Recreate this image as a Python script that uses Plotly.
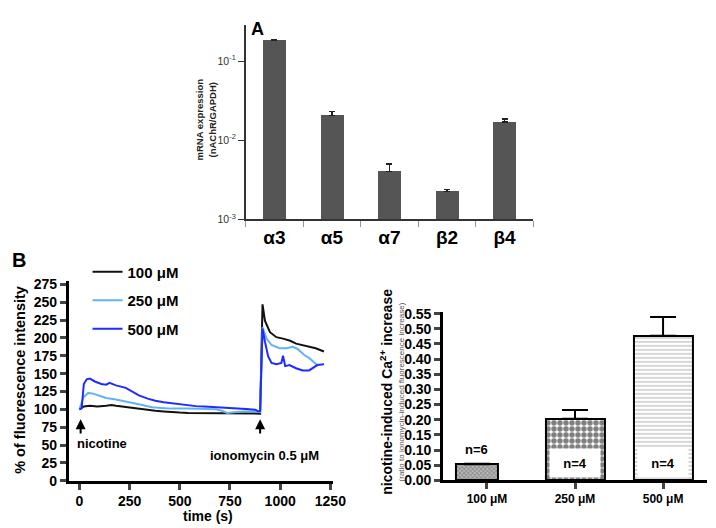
import plotly.graph_objects as go

# panel A: mRNA expression (log scale)
subunits = ["α3", "α5", "α7", "β2", "β4"]
mrna = [0.181, 0.0205, 0.00405, 0.00223, 0.0170]
mrna_err_top = [0.188, 0.0232, 0.0050, 0.00241, 0.0185]

# panel B left: calcium traces (% of fluorescence intensity)
t_100 = [0, 22, 52, 90, 133, 160, 182, 231, 296, 340, 378, 420, 459, 500, 541, 580, 622, 660, 704, 740,
         785, 830, 875, 900, 912, 924, 949, 981, 1014, 1050, 1079, 1110, 1144, 1177, 1218]
v_100 = [100, 104, 105, 104, 105, 106, 105, 103, 100.5, 99, 98, 97, 96, 95.5, 95, 95, 95, 94.5, 94.5, 95,
         95, 94.5, 94.5, 94, 247, 224, 208, 201, 199, 196, 192, 190, 188, 185.5, 181]

t_250 = [0, 20, 44, 68, 100, 133, 175, 215, 260, 296, 329, 362, 410, 459, 540, 622, 680, 710, 736, 770,
         820, 875, 900, 912, 932, 957, 997, 1030, 1063, 1087, 1120, 1144, 1169, 1188]
v_250 = [100, 117, 123, 122, 119, 116, 114, 112, 109, 107, 105, 103, 102, 101, 101, 101, 100, 98, 95, 96,
         97, 97, 96, 215, 199, 190, 185.5, 185.5, 187.5, 184.5, 176, 172, 165, 161]

t_500 = [0, 11, 22, 36, 52, 77, 109, 133, 150, 182, 231, 264, 296, 340, 378, 420, 459, 500, 541, 580,
         622, 660, 704, 740, 785, 830, 875, 892, 900, 912, 924, 940, 957, 981, 1006, 1014, 1025, 1046,
         1079, 1112, 1144, 1169, 1185, 1218]
v_500 = [100, 101.5, 135.5, 142, 143, 139, 135.5, 134.5, 137, 133.5, 130, 125, 119.5, 115, 112, 110, 108.5,
         107, 105, 104.5, 104, 103.5, 103, 102, 101.5, 100.5, 99.5, 97, 98, 213, 195, 174, 165, 163, 165,
         175, 160.5, 162, 157.5, 154.5, 154.5, 159, 162, 163]

# panel B right: nicotine-induced Ca2+ increase
doses = ["100 μM", "250 μM", "500 μM"]
ratio = [0.053, 0.203, 0.477]
ratio_err = [0.002, 0.029, 0.062]
n_labels = ["n=6", "n=4", "n=4"]

FONT = "Liberation Sans, Arial, sans-serif"
W, H = 716, 528

fig = go.Figure()

# ---- panel A
fig.add_trace(go.Bar(
    x=subunits, y=mrna, width=0.4, marker=dict(color="#555555", line=dict(width=0)),
    error_y=dict(type="data", symmetric=False,
                 array=[e - v for e, v in zip(mrna_err_top, mrna)],
                 arrayminus=[0] * len(mrna), color="#222", thickness=1.2, width=3),
    xaxis="x", yaxis="y", showlegend=False))

# ---- panel B left
for name, t, v, col in [("100 μM", t_100, v_100, "#111111"),
                        ("250 μM", t_250, v_250, "#63b3f4"),
                        ("500 μM", t_500, v_500, "#1f2bff")]:
    fig.add_trace(go.Scatter(x=t, y=v, mode="lines", name=name, legendgroup=name,
                             line=dict(color=col, width=2), xaxis="x2", yaxis="y2"))

# ---- panel B right
bar_w = [0.47, 0.67, 0.67]
bar_off = [-0.35, -0.335, -0.335]
fig.add_trace(go.Bar(
    x=doses, y=ratio, width=bar_w, offset=bar_off,
    marker=dict(color="white", line=dict(color="black", width=2),
                pattern=dict(shape=["x", ".", "-"], fgcolor=["#555555", "black", "#8a8a8a"],
                             bgcolor=["#bdbdbd", "white", "white"], size=[3, 6, 4],
                             solidity=[0.5, 0.65, 0.35])),
    error_y=dict(type="data", symmetric=False, array=ratio_err, arrayminus=[0, 0, 0],
                 color="black", thickness=2, width=13),
    xaxis="x3", yaxis="y3", showlegend=False))

bold = dict(family=FONT, color="black", weight="bold")

fig.update_layout(
    width=W, height=H, margin=dict(l=0, r=0, t=0, b=0),
    paper_bgcolor="white", plot_bgcolor="white", font=dict(family=FONT, color="black"),
    bargap=0,
    xaxis=dict(domain=[242 / W, 535 / W], anchor="y", type="category", showline=True,
               linecolor="#333", linewidth=1.5, ticks="outside", tickson="boundaries",
               ticklen=6, tickcolor="#999", tickfont=dict(size=19, **bold), showgrid=False),
    yaxis=dict(domain=[1 - 211 / H, 1 - 11.7 / H], anchor="x", type="log", range=[-3, -0.55],
               tickvals=[0.001, 0.01, 0.1],
               ticktext=["10<sup>-3</sup>", "10<sup>-2</sup>", "10<sup>-1</sup>"],
               showline=True, linecolor="#333", linewidth=1.5, ticks="outside", ticklen=6,
               tickcolor="#333", tickfont=dict(size=10.5, family=FONT, color="#333"),
               showgrid=False, zeroline=False),
    xaxis2=dict(domain=[61.7 / W, 330.8 / W], anchor="y2", range=[-54, 1262],
                tickvals=[0, 250, 500, 750, 1000, 1250], showline=True, linecolor="black",
                linewidth=2.5, ticks="outside", ticklen=6, tickwidth=2.5,
                tickfont=dict(size=14, **bold), showgrid=False, zeroline=False),
    yaxis2=dict(domain=[1 - 479.5 / H, 1 - 274 / H], anchor="x2", range=[0, 280],
                tickvals=list(range(0, 276, 25)), showline=True, linecolor="black",
                linewidth=2.5, ticks="outside", ticklen=6, tickwidth=2.5,
                tickfont=dict(size=14, **bold), showgrid=False, zeroline=False),
    xaxis3=dict(domain=[443 / W, 712 / W], anchor="y3", type="category", range=[-0.5, 2.5],
                showline=True, linecolor="black", linewidth=2.5, ticks="outside", ticklen=6,
                tickwidth=2.5, tickfont=dict(size=12, **bold), showgrid=False),
    yaxis3=dict(domain=[1 - 479 / H, 1 - 306 / H], anchor="x3", range=[0, 0.556],
                tickvals=[i * 0.05 for i in range(12)], tickformat=".2f", showline=True,
                linecolor="black", linewidth=2.5, ticks="outside", ticklen=6, tickwidth=2.5,
                tickfont=dict(size=14, **bold), showgrid=False, zeroline=False),
    legend=dict(x=81 / W, y=1 - 248 / H, xanchor="left", yanchor="top",
                font=dict(size=15, **bold), itemwidth=30, tracegroupgap=6,
                bgcolor="rgba(0,0,0,0)"),
)

ann = []


def label(text, px, py, size, angle=0, color="black"):
    ann.append(dict(text=text, x=px / W, y=1 - py / H, xref="paper", yref="paper",
                    xanchor="center", yanchor="middle", showarrow=False, textangle=angle,
                    font=dict(size=size, color=color)))


# panel letters
label("<b>A</b>", 254, 15, 18)
label("<b>B</b>", 11, 253, 20)
# axis titles
label("<b>mRNA expression<br>(nAChR/GAPDH)</b>", 201, 108, 9.5, -90, "#222")
label("<b>% of fluorescence intensity</b>", 12, 376, 14.5, -90)
label("<b>time (s)</b>", 204, 516, 14)
label("<b>nicotine-induced Ca<sup>2+</sup> increase</b>", 385, 388, 14, -90)
label("(ratio to ionomycin-induced fluorescence increase)", 401, 388, 8, -90, "#555")

# stimulus arrows
for tx, lab, lx, ly, anchor in [(6, "nicotine", -23, 51.5, "left"),
                                (900, "ionomycin 0.5 μM", 922, 36, "center")]:
    ann.append(dict(x=tx, y=86, ax=tx, ay=64, xref="x2", yref="y2", axref="x2", ayref="y2",
                    showarrow=True, arrowhead=2, arrowsize=1, arrowwidth=2, arrowcolor="black",
                    text=""))
    ann.append(dict(x=lx, y=ly, xref="x2", yref="y2", text="<b>" + lab + "</b>", showarrow=False,
                    xanchor=anchor, yanchor="middle", font=dict(size=13)))
# n labels (centred on each bar)
for i, lab in enumerate(n_labels):
    xc = i + bar_off[i] + bar_w[i] / 2
    if i == 0:
        ann.append(dict(x=xc, y=ratio[0] + 0.048, xref="x3", yref="y3", text="<b>" + lab + "</b>",
                        showarrow=False, yanchor="middle", font=dict(size=13)))
    else:
        ann.append(dict(x=xc, y=0.056, xref="x3", yref="y3", text="<b>" + lab + "</b>",
                        showarrow=False, yanchor="middle", font=dict(size=13), bgcolor="white",
                        width=48, height=26))
fig.update_layout(annotations=ann)

fig.write_html("out.html")
